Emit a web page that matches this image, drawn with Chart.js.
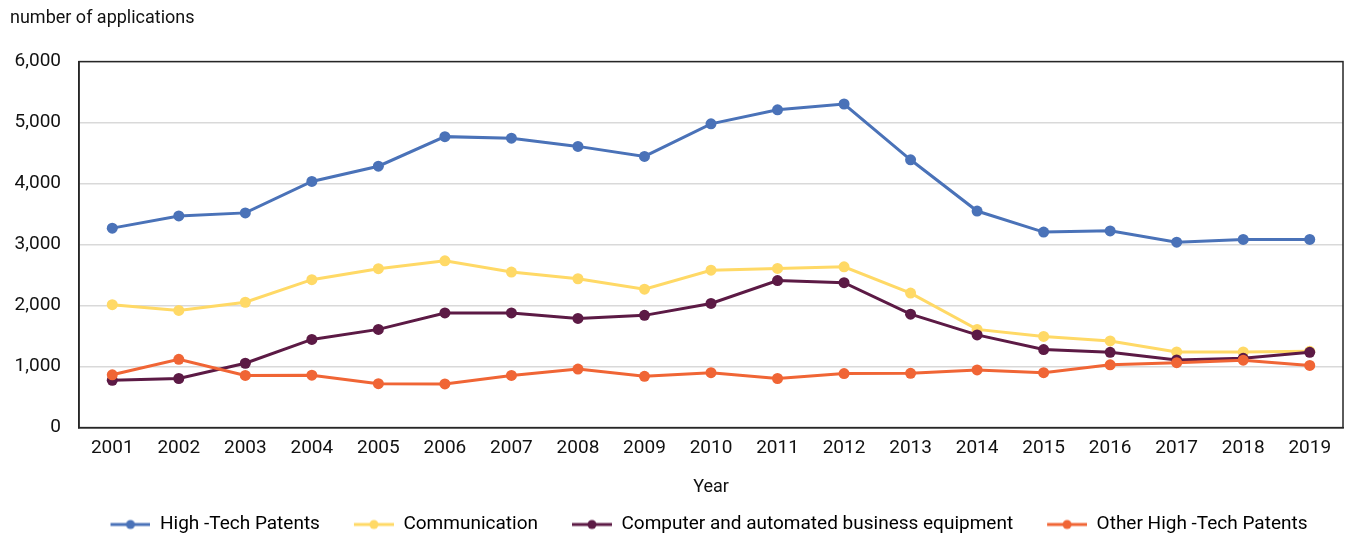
<!DOCTYPE html>
<html>
<head>
<meta charset="utf-8">
<script src="https://cdn.jsdelivr.net/npm/chart.js@4"></script>
<style>
  html, body { margin: 0; padding: 0; background: #fff; }
  #wrap { width: 1349px; height: 538px; }
</style>
</head>
<body>
<div id="wrap"><canvas id="patentChart"></canvas></div>
<script>
const years = ['2001', '2002', '2003', '2004', '2005', '2006', '2007', '2008', '2009', '2010',
  '2011', '2012', '2013', '2014', '2015', '2016', '2017', '2018', '2019'];

const highTech = [3270, 3470, 3520, 4035, 4285, 4770, 4745, 4610, 4445, 4980,
  5210, 5305, 4390, 3550, 3205, 3225, 3040, 3085, 3085];
const communication = [2015, 1920, 2055, 2425, 2605, 2735, 2550, 2440, 2270, 2580,
  2610, 2635, 2205, 1610, 1495, 1420, 1240, 1240, 1250];
const computer = [775, 805, 1055, 1445, 1610, 1880, 1880, 1790, 1840, 2035,
  2410, 2375, 1860, 1520, 1280, 1235, 1110, 1135, 1235];
const otherHighTech = [865, 1120, 855, 860, 720, 715, 855, 960, 840, 900,
  805, 885, 890, 945, 900, 1030, 1065, 1105, 1020];

const yTicks = [0, 1000, 2000, 3000, 4000, 5000, 6000];

const colors = {
  blue: '#4a72b8',
  yellow: '#ffd966',
  purple: '#5c1a45',
  orange: '#f06535'
};

Chart.defaults.font.family = 'Roboto, "Liberation Sans", sans-serif';
Chart.defaults.color = '#111';

// legend symbol: short line with a dot, with blank room on the left for spacing
function legendSymbol(color) {
  const c = document.createElement('canvas');
  c.width = 70;
  c.height = 12;
  const g = c.getContext('2d');
  g.strokeStyle = color;
  g.lineWidth = 3;
  g.beginPath();
  g.moveTo(30, 6);
  g.lineTo(70, 6);
  g.stroke();
  g.fillStyle = color;
  g.beginPath();
  g.arc(50, 6, 4.5, 0, Math.PI * 2);
  g.fill();
  return c;
}

function series(label, data, color, order) {
  return {
    label: label,
    data: data,
    borderColor: color,
    backgroundColor: color,
    borderWidth: 3,
    pointRadius: 5.5,
    pointHoverRadius: 6,
    pointBorderWidth: 0,
    tension: 0,
    order: order
  };
}

const frame = {
  id: 'frame',
  afterLayout(chart) {
    // centre the legend under the plot area instead of the canvas
    const lg = chart.legend;
    const mid = (chart.chartArea.left + chart.chartArea.right) / 2 - 17;
    lg.left = mid - 640;
    lg.right = mid + 640;
  },
  afterDatasetsDraw(chart) {
    const a = chart.chartArea;
    const ctx = chart.ctx;
    ctx.save();
    ctx.strokeStyle = '#262626';
    ctx.lineWidth = 1.5;
    ctx.strokeRect(a.left, a.top, a.right - a.left, a.bottom - a.top);
    ctx.restore();
  }
};

const ctx = document.getElementById('patentChart').getContext('2d');

new Chart(ctx, {
  type: 'line',
  data: {
    labels: years,
    datasets: [
      series('High -Tech Patents', highTech, colors.blue, 3),
      series('Communication', communication, colors.yellow, 2),
      series('Computer and automated business equipment', computer, colors.purple, 1),
      series('Other High -Tech Patents', otherHighTech, colors.orange, 0)
    ]
  },
  options: {
    responsive: true,
    maintainAspectRatio: false,
    animation: false,
    layout: {
      padding: { left: 10, right: 4, top: 0, bottom: -6 }
    },
    plugins: {
      title: {
        display: true,
        text: 'number of applications',
        align: 'start',
        color: '#111',
        font: { size: 18, weight: 'normal' },
        padding: { top: 8, bottom: 32 }
      },
      legend: {
        position: 'bottom',
        labels: {
          usePointStyle: true,
          pointStyleWidth: 70,
          padding: 4,
          font: { size: 19 },
          color: '#111',
          generateLabels(chart) {
            return chart.data.datasets.map((ds, i) => ({
              text: ds.label,
              fillStyle: ds.borderColor,
              strokeStyle: ds.borderColor,
              lineWidth: 0,
              pointStyle: legendSymbol(ds.borderColor),
              hidden: !chart.isDatasetVisible(i),
              datasetIndex: i
            }));
          }
        }
      },
      tooltip: { enabled: true }
    },
    scales: {
      x: {
        offset: true,
        grid: { display: false, drawTicks: false },
        border: { color: '#262626', width: 1.5 },
        ticks: {
          padding: 9,
          color: '#111',
          font: { size: 19 },
          maxRotation: 0
        },
        title: {
          display: true,
          text: 'Year',
          color: '#111',
          font: { size: 18 },
          padding: { top: 8, bottom: 13 }
        }
      },
      y: {
        min: 0,
        max: 6000,
        afterBuildTicks(scale) {
          scale.ticks = yTicks.map(v => ({ value: v }));
        },
        afterFit(scale) {
          scale.width = 69;
        },
        grid: { color: '#d9d9d9', lineWidth: 1.5, drawTicks: false },
        border: { color: '#262626', width: 1.5 },
        ticks: {
          padding: 18,
          color: '#111',
          font: { size: 19 },
          callback: v => v.toLocaleString('en-US')
        }
      }
    }
  },
  plugins: [frame]
});
</script>
</body>
</html>
